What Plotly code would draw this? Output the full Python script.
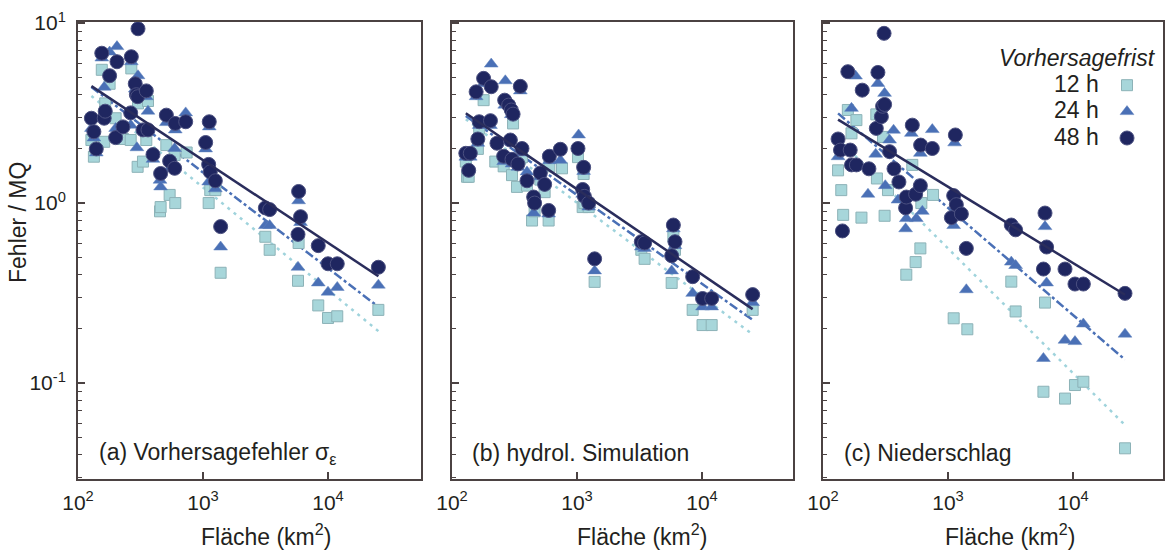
import numpy as np
import plotly.graph_objects as go

# --- data: catchment area (km2) and error / MQ ------------------------------
# panel (a) Vorhersagefehler
a_area_12h = [128, 134, 155, 162, 165, 179, 200, 229, 264, 267, 300, 302, 331, 352, 363, 453, 458, 509, 541, 593,
              600, 740, 1110, 1143, 1255, 1384, 3153, 3414, 5754, 5820, 8357, 10000, 11860, 25290]
a_err_12h = [2.24, 1.81, 5.5, 2.19, 3.58, 4.6, 2.96, 2.27, 2.24, 5.6, 1.59, 3.58, 1.70, 2.24, 3.69, 0.9, 0.95, 2.1, 1.11, 1.85,
             1.0, 1.91, 1.0, 1.18, 1.18, 0.41, 0.65, 0.55, 0.37, 0.6, 0.27, 0.23, 0.235, 0.255]
a_area_24h = [128, 134, 140, 155, 162, 179, 200, 205, 264, 267, 287, 296, 302, 352, 363, 398, 453, 458, 509, 541,
              593, 600, 727, 1050, 1110, 1122, 1255, 1384, 3153, 3414, 5754, 5820, 6030, 8357, 10000, 11860, 25290]
a_err_24h = [2.6, 2.3, 1.9, 6.4, 4.4, 6.9, 2.6, 7.4, 2.71, 6.1, 4.3, 2.03, 5.1, 3.9, 3.24, 1.75, 1.34, 1.23, 2.8, 1.55,
             2.01, 2.55, 3.17, 2.0, 1.31, 2.65, 1.2, 0.57, 0.75, 0.75, 0.44, 1.03, 0.78, 0.36, 0.32, 0.34, 0.35]
a_area_48h = [128, 134, 140, 155, 162, 165, 179, 200, 205, 229, 264, 267, 287, 293, 300, 302, 331, 352, 363, 398,
              458, 509, 541, 593, 600, 727, 1050, 1110, 1122, 1143, 1255, 1384, 3153, 3414, 5754, 5820, 6030, 8357,
              10000, 11860, 25290]
a_err_48h = [2.96, 2.49, 2.0, 6.8, 2.96, 3.24, 5.1, 2.31, 6.1, 2.65, 3.17, 6.5, 4.6, 4.0, 3.9, 9.3, 2.55, 4.2, 2.55, 1.86,
             1.46, 3.08, 1.71, 1.56, 2.77, 2.83, 2.17, 1.64, 2.83, 1.49, 1.33, 0.74, 0.94, 0.92, 0.67, 1.16, 0.84, 0.58,
             0.46, 0.46, 0.44]

# panel (b) hydrol. Simulation
b_area_12h = [129, 132, 136, 161, 165, 179, 222, 259, 302, 308, 331, 363, 398, 437, 458, 509, 551, 593, 601, 759,
              1018, 1110, 1130, 1145, 1240, 1384, 3270, 3475, 5720, 5900, 6080, 8420, 10100, 11950, 25420]
b_err_12h = [1.70, 1.40, 1.4, 2.0, 2.6, 3.73, 1.70, 1.6, 1.43, 2.77, 1.23, 1.8, 1.25, 0.80, 0.9, 1.35, 1.15, 0.80, 1.6, 1.56,
             1.8, 0.95, 1.45, 1.0, 0.95, 0.365, 0.55, 0.49, 0.36, 0.65, 0.55, 0.255, 0.21, 0.21, 0.255]
b_area_24h = [129, 140, 156, 161, 165, 179, 203, 206, 259, 264, 267, 298, 302, 337, 352, 363, 398, 450, 509, 593,
              601, 736, 1030, 1110, 1130, 1240, 1384, 3270, 3475, 5720, 5900, 6080, 8420, 10100, 11950, 25420]
b_err_24h = [1.8, 1.8, 3.9, 2.15, 2.7, 4.6, 2.7, 5.92, 1.7, 3.5, 4.78, 3.1, 1.65, 1.58, 4.2, 1.9, 1.49, 0.88, 1.4, 0.87,
             1.72, 1.73, 2.39, 1.12, 1.5, 0.95, 0.42, 0.57, 0.56, 0.42, 0.72, 0.58, 0.315, 0.265, 0.265, 0.28]
b_area_48h = [129, 136, 140, 156, 161, 165, 179, 203, 206, 229, 259, 264, 284, 293, 298, 302, 308, 337, 352, 363,
              398, 450, 458, 509, 551, 593, 601, 736, 1018, 1110, 1130, 1145, 1240, 1384, 3270, 3475, 5720, 5900,
              6080, 8420, 10100, 11950, 25420]
b_err_48h = [1.89, 1.52, 1.89, 4.15, 2.27, 2.83, 4.93, 2.87, 4.43, 2.15, 1.82, 3.73, 3.50, 2.24, 3.29, 1.75, 3.12, 1.65,
             4.45, 2.01, 1.33, 1.08, 1.0, 1.47, 1.27, 0.91, 1.82, 1.99, 2.01, 1.19, 1.58, 1.09, 1.0, 0.49, 0.61, 0.60,
             0.51, 0.755, 0.61, 0.39, 0.295, 0.295, 0.31]

# panel (c) Niederschlag
c_area_12h = [132, 140, 145, 158, 169, 185, 203, 267, 270, 302, 311, 331, 464, 518, 551, 601, 612, 759, 1110, 1428,
              3210, 3475, 5800, 5970, 8630, 10370, 12100, 26060]
c_err_12h = [1.52, 1.18, 0.86, 3.29, 2.44, 2.89, 0.83, 3.11, 1.37, 2.33, 0.85, 1.18, 0.40, 1.63, 0.47, 0.56, 1.0, 1.11,
             0.229, 0.199, 0.366, 0.25, 0.0895, 0.28, 0.082, 0.0975, 0.1017, 0.0434]
c_area_24h = [132, 169, 182, 229, 264, 275, 311, 315, 341, 367, 398, 458, 464, 509, 558, 601, 623, 749, 1110, 1130,
              1402, 3210, 3475, 5800, 5970, 6150, 8630, 10370, 12100, 26060]
c_err_24h = [1.81, 3.36, 5.08, 1.12, 1.87, 4.62, 4.07, 1.25, 2.24, 2.54, 1.04, 0.72, 0.82, 2.44, 0.82, 1.89, 0.90, 2.56,
             0.75, 2.16, 0.33, 0.47, 0.45, 0.137, 0.74, 0.36, 0.173, 0.17, 0.213, 0.187]
c_area_48h = [132, 138, 143, 158, 165, 169, 185, 206, 233, 267, 275, 293, 300, 308, 311, 341, 370, 405, 458, 464,
              518, 551, 601, 604, 749, 1064, 1110, 1145, 1166, 1279, 1402, 3210, 3475, 5800, 5970, 6150, 8630,
              10370, 12100, 26060]
c_err_48h = [2.27, 1.97, 0.70, 5.37, 1.97, 1.63, 1.63, 4.24, 1.55, 2.60, 5.32, 3.02, 3.45, 8.77, 3.53, 1.93, 1.55, 1.31,
             0.94, 1.08, 2.71, 1.12, 1.25, 2.10, 2.01, 0.83, 1.10, 2.39, 0.98, 0.87, 0.56, 0.755, 0.71, 0.43, 0.88,
             0.57, 0.43, 0.355, 0.355, 0.315]

# power-law fits log10(err) = icpt + slope*log10(area), order 12 h, 24 h, 48 h
fit_icpt_a = [1.794, 1.766, 1.619]
fit_slope_a = [-0.569, -0.532, -0.460]
fit_icpt_b = [1.565, 1.527, 1.499]
fit_slope_b = [-0.521, -0.494, -0.474]
fit_icpt_c = [1.827, 1.762, 1.363]
fit_slope_c = [-0.693, -0.596, -0.424]

lead_labels = ["12 h", "24 h", "48 h"]
panel_labels = ["(a) Vorhersagefehler σ<sub>ε</sub>", "(b) hydrol. Simulation", "(c) Niederschlag"]

# --- style -----------------------------------------------------------------
FONT = "Liberation Sans, Arial, sans-serif"
INK = "#231f20"
FRAME = "#4b4242"

marker_styles = [
    dict(symbol="square", size=11, color="#a7d6da", line=dict(color="#8cb2b7", width=1)),
    dict(symbol="triangle-up", size=12, color="#4a70b6", line=dict(color="#5f80bd", width=0.5)),
    dict(symbol="circle", size=14, color="#1f2660", line=dict(color="#4b5080", width=1)),
]
line_styles = [
    dict(color="#9fd3dc", width=2.5, dash="3px,5px"),
    dict(color="#4a70b6", width=2.5, dash="dashdot"),
    dict(color="#2a2d5c", width=2.5),
]

panels = [
    ([a_area_12h, a_area_24h, a_area_48h], [a_err_12h, a_err_24h, a_err_48h], fit_icpt_a, fit_slope_a),
    ([b_area_12h, b_area_24h, b_area_48h], [b_err_12h, b_err_24h, b_err_48h], fit_icpt_b, fit_slope_b),
    ([c_area_12h, c_area_24h, c_area_48h], [c_err_12h, c_err_24h, c_err_48h], fit_icpt_c, fit_slope_c),
]

# pixel layout: plot area 78..1163 x 22..479
W, H = 1165, 553
ML, MR, MT, MB = 78, 2, 22, 74
PW = W - ML - MR
PH = H - MT - MB
panel_px = [(78, 421), (452, 793), (823, 1163)]
DECADE = 125.0


def px_x(px):
    return (px - ML) / PW


def px_y(py):
    return (H - MB - py) / PH


def fit_trace(areas, icpt, slope, style, sfx):
    xs = np.array([min(areas), max(areas)], dtype=float)
    ys = 10 ** (icpt + slope * np.log10(xs))
    return go.Scatter(x=xs, y=ys, mode="lines", line=style, xaxis="x" + sfx, yaxis="y" + sfx,
                      showlegend=False, hoverinfo="skip")


fig = go.Figure()

for i, (areas, errs, icpt, slope) in enumerate(panels):
    sfx = "" if i == 0 else str(i + 1)
    # dotted / dash-dot fits sit under the symbols, the 48 h fit on top
    for k in range(2):
        fig.add_trace(fit_trace(areas[k], icpt[k], slope[k], line_styles[k], sfx))
    for k in range(3):
        fig.add_trace(go.Scatter(
            x=areas[k], y=errs[k], mode="markers", marker=marker_styles[k],
            xaxis="x" + sfx, yaxis="y" + sfx, name="", showlegend=(i == 2),
            hoverinfo="x+y"))
    fig.add_trace(fit_trace(areas[2], icpt[2], slope[2], line_styles[2], sfx))

    left, right = panel_px[i]
    fig.layout["xaxis" + sfx] = dict(
        type="log", range=[2, 2 + (right - left) / DECADE],
        domain=[px_x(left), px_x(right)], anchor="y" + sfx,
        tickvals=[1e2, 1e3, 1e4],
        ticktext=["10<sup>2</sup>", "10<sup>3</sup>", "10<sup>4</sup>"],
        ticks="inside", ticklen=7, tickwidth=1.5, tickcolor=FRAME,
        showline=True, linecolor=FRAME, linewidth=2, mirror=True,
        showgrid=False, zeroline=False,
        tickfont=dict(family=FONT, size=21, color=INK), ticklabelstandoff=4)
    fig.layout["yaxis" + sfx] = dict(
        type="log", range=[-1.533, 1.006], domain=[0, 1], anchor="x" + sfx,
        tickvals=[0.1, 1, 10],
        ticktext=["10<sup>-1</sup>", "10<sup>0</sup>", "10<sup>1</sup>"],
        showticklabels=(i == 0),
        ticks="inside", ticklen=7, tickwidth=1.5, tickcolor=FRAME,
        minor=dict(dtick="D1", ticks="inside", ticklen=4, tickwidth=1, tickcolor=FRAME, showgrid=False),
        showline=True, linecolor=FRAME, linewidth=2, mirror=True,
        showgrid=False, zeroline=False,
        tickfont=dict(family=FONT, size=21, color=INK), ticklabelstandoff=6)

annotations = []
# panel labels and x titles
label_left = [97, 470, 842]
title_centre = [266, 642, 1010]
for i in range(3):
    annotations.append(dict(
        text=panel_labels[i], xref="paper", yref="paper", x=px_x(label_left[i]), y=px_y(453),
        xanchor="left", yanchor="middle", showarrow=False, font=dict(family=FONT, size=23, color=INK)))
    annotations.append(dict(
        text="Fläche (km<sup>2</sup>)", xref="paper", yref="paper", x=px_x(title_centre[i]), y=px_y(535),
        xanchor="center", yanchor="middle", showarrow=False, font=dict(family=FONT, size=23, color=INK)))

annotations.append(dict(
    text="Fehler / MQ", xref="paper", yref="paper", x=px_x(18), y=px_y(222), textangle=-90,
    xanchor="center", yanchor="middle", showarrow=False, font=dict(family=FONT, size=23, color=INK)))

# legend header and entry texts (symbols come from the plotly legend)
annotations.append(dict(
    text="<i>Vorhersagefrist</i>", xref="paper", yref="paper", x=px_x(1158), y=px_y(58),
    xanchor="right", yanchor="middle", showarrow=False, font=dict(family=FONT, size=23, color=INK)))
for k, ypos in enumerate([84, 110, 137]):
    annotations.append(dict(
        text=lead_labels[k], xref="paper", yref="paper", x=px_x(1101), y=px_y(ypos),
        xanchor="right", yanchor="middle", showarrow=False, font=dict(family=FONT, size=23, color=INK)))

fig.update_layout(
    width=W, height=H,
    margin=dict(l=ML, r=MR, t=MT, b=MB, autoexpand=False),
    paper_bgcolor="white", plot_bgcolor="white",
    font=dict(family=FONT, color=INK),
    annotations=annotations,
    showlegend=True,
    legend=dict(x=px_x(1107), y=px_y(67), xanchor="left", yanchor="top",
                bgcolor="rgba(0,0,0,0)", font=dict(family=FONT, size=18), traceorder="normal"),
)

# page body margin would shift the figure by 8 px
fig.write_html("out.html", config={"displayModeBar": False},
               post_script="document.body.style.margin='0';")
